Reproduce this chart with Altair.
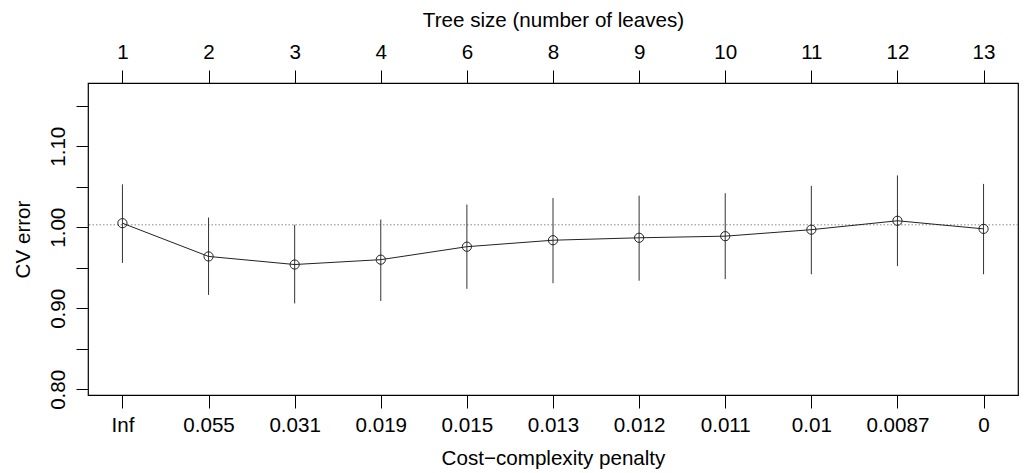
import altair as alt
import pandas as pd

idx = list(range(1, 12))
cp_labels = ["Inf", "0.055", "0.031", "0.019", "0.015", "0.013", "0.012", "0.011", "0.01", "0.0087", "0"]
tree_sizes = ["1", "2", "3", "4", "6", "8", "9", "10", "11", "12", "13"]
xerror = [1.005, 0.964, 0.954, 0.960, 0.976, 0.984, 0.987, 0.989, 0.997, 1.008, 0.998]
err_hi = [1.053, 1.012, 1.003, 1.0095, 1.028, 1.036, 1.039, 1.042, 1.051, 1.064, 1.0535]
err_lo = [0.956, 0.9165, 0.906, 0.909, 0.924, 0.931, 0.934, 0.936, 0.942, 0.952, 0.942]
ref_line = [1.003]
y_ticks = [0.80, 0.85, 0.90, 0.95, 1.00, 1.05, 1.10, 1.15]

df = pd.DataFrame({"i": idx, "xerror": xerror, "hi": err_hi, "lo": err_lo})
ref_df = pd.DataFrame({"y": ref_line})

FONT = "Liberation Sans"
FS = 20.6

def arr(lst):
    return "[" + ",".join("'" + s + "'" for s in lst) + "]"

x_scale = alt.Scale(domain=[0.6, 11.4], nice=False, zero=False)
y_scale = alt.Scale(domain=[0.793, 1.178], nice=False, zero=False)

y_axis = alt.Axis(
    values=y_ticks,
    labelExpr="(round(datum.value*100) % 10 == 0) ? format(datum.value, '.2f') : ''",
    labelAngle=270, labelAlign="center", labelBaseline="bottom", labelPadding=8,
    labelOverlap=False, labelFlush=False, domain=False, grid=False,
    tickSize=12, tickColor="black", labelFontSize=FS, labelFont=FONT, labelColor="black",
    title="CV error", titleFontSize=FS, titleFont=FONT, titleFontWeight="normal",
    titleColor="black", titlePadding=15,
)

bottom_axis = alt.Axis(
    orient="bottom", values=idx, labelExpr=arr(cp_labels) + "[datum.value-1]",
    domain=False, grid=False, tickSize=13, tickColor="black",
    labelFontSize=FS, labelFont=FONT, labelColor="black", labelPadding=7,
    labelOverlap=False, labelFlush=False,
    title="Cost\u2212complexity penalty", titleFontSize=FS, titleFont=FONT,
    titleFontWeight="normal", titleColor="black", titlePadding=13,
)

top_axis = alt.Axis(
    orient="top", values=idx, labelExpr=arr(tree_sizes) + "[datum.value-1]",
    domain=False, grid=False, tickSize=13, tickColor="black",
    labelFontSize=FS, labelFont=FONT, labelColor="black", labelPadding=8,
    labelOverlap=False, labelFlush=False,
    title="Tree size (number of leaves)", titleFontSize=FS, titleFont=FONT,
    titleFontWeight="normal", titleColor="black", titlePadding=12,
)

bars = alt.Chart(df).mark_rule(color="#333333", strokeWidth=1).encode(
    x=alt.X("i:Q", scale=x_scale, axis=bottom_axis),
    y=alt.Y("lo:Q", scale=y_scale, axis=y_axis),
    y2="hi:Q",
)

line = alt.Chart(df).mark_line(color="#222222", strokeWidth=1).encode(
    x=alt.X("i:Q", scale=x_scale, axis=top_axis),
    y=alt.Y("xerror:Q", scale=y_scale, axis=y_axis),
)

pts = alt.Chart(df).mark_point(shape="circle", filled=False, color="#222222",
                               size=85, strokeWidth=1, opacity=1).encode(
    x=alt.X("i:Q", scale=x_scale, axis=None),
    y=alt.Y("xerror:Q", scale=y_scale, axis=y_axis),
)

ref = alt.Chart(ref_df).mark_rule(color="#888888", strokeWidth=1, strokeDash=[1.5, 2]).encode(
    y=alt.Y("y:Q", scale=y_scale, axis=y_axis),
)

chart = alt.layer(ref, bars, line, pts).resolve_axis(x="independent").properties(
    width=930, height=312,
    autosize=alt.AutoSizeParams(type="none"),
    padding={"left": 80, "top": 75, "right": 1, "bottom": 78},
    background="white",
).configure_view(stroke="black", strokeWidth=1.2)

chart.save("out.html", embed_options={"renderer": "svg", "actions": False})
